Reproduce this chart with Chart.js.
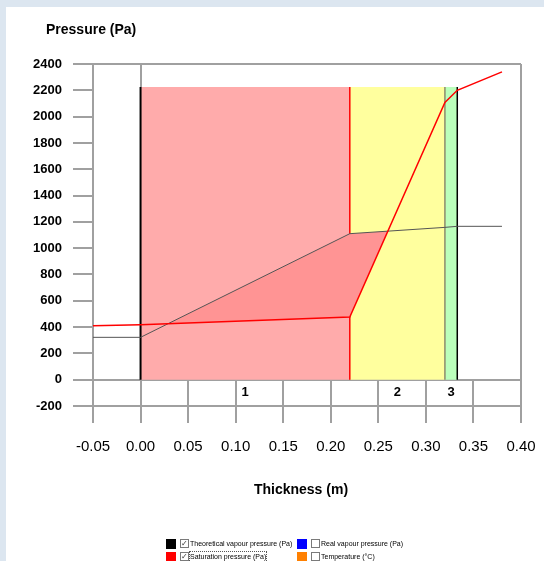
<!DOCTYPE html>
<html>
<head>
<meta charset="utf-8">
<script src="https://cdn.jsdelivr.net/npm/chart.js@4.4.1/dist/chart.umd.min.js"></script>
<style>
  html, body { margin: 0; padding: 0; }
  body { width: 544px; height: 561px; background: #dce6f0; position: relative; overflow: hidden; font-family: "Liberation Sans", Arial, sans-serif; }
  #panel { position: absolute; left: 6px; top: 7px; right: 0; bottom: 0; background: #ffffff; }
  #chart { position: absolute; left: 0; top: 0; }
  .legend-item { position: absolute; height: 10px; font-size: 7px; line-height: 10px; color: #000; white-space: nowrap; }
  .legend-item .swatch { position: absolute; left: 0; top: 0; width: 10px; height: 10px; }
  .legend-item .box { position: absolute; left: 14px; top: 0; width: 7px; height: 7px; border: 1px solid #7a7a7a; background: #fff; font-size: 8px; line-height: 7px; text-align: center; color: #333; }
  .legend-item .text { position: absolute; left: 24px; top: 0; }
  .legend-item .focus { outline: 1px dotted #555; }
</style>
</head>
<body>
<div id="panel"></div>
<canvas id="chart" width="544" height="561"></canvas>
<div id="legend"></div>
<script>
// position through the wall (m)
const thickness = [-0.05, 0, 0.22, 0.32, 0.333, 0.38];
const saturationPressure = [410, 418, 477, 2108, 2200, 2340];
const vapourPressure = [322, 322, 1110, 1158, 1166, 1166];

// material layers
const layerNames = ["1", "2", "3"];
const layerStart = [0, 0.22, 0.32];
const layerEnd = [0.22, 0.32, 0.333];
const layerTop = 2225;
const layerColors = ["#ffabab", "#ffff9e", "#bbffbb"];
const layerEdgeColors = ["#ff0000", "#8c8c6a", "#000000"];

const xTickLabels = ["-0.05", "0.00", "0.05", "0.10", "0.15", "0.20", "0.25", "0.30", "0.35", "0.40"];
const yTickLabels = ["-200", "0", "200", "400", "600", "800", "1000", "1200", "1400", "1600", "1800", "2000", "2200", "2400"];

const legendItems = [
  { label: "Theoretical vapour pressure (Pa)", color: "#000000", checked: true },
  { label: "Real vapour pressure (Pa)", color: "#0000ff", checked: false },
  { label: "Saturation pressure (Pa)", color: "#ff0000", checked: true, focus: true },
  { label: "Temperature (\u00b0C)", color: "#ff8000", checked: false },
];

const toPoints = (xs, ys) => xs.map((x, i) => ({ x: x, y: ys[i] }));

const datasets = [
  {
    label: "Saturation pressure (Pa)",
    data: toPoints(thickness, saturationPressure),
    borderColor: "#ff0000",
    borderWidth: 1.5,
    pointRadius: 0,
    fill: false,
  },
  {
    label: "Theoretical vapour pressure (Pa)",
    data: toPoints(thickness, vapourPressure),
    borderColor: "#555555",
    borderWidth: 1,
    pointRadius: 0,
    // condensation zone where vapour pressure goes above saturation
    fill: { target: 0, above: "#ff9494", below: "rgba(0,0,0,0)" },
  },
];

// left edge of the first layer
datasets.push({
  data: [{ x: layerStart[0], y: 0 }, { x: layerStart[0], y: layerTop }],
  borderColor: "#000000",
  borderWidth: 2,
  pointRadius: 0,
  fill: false,
});

layerNames.forEach((name, i) => {
  datasets.push({
    data: [{ x: layerEnd[i], y: 0 }, { x: layerEnd[i], y: layerTop }],
    borderColor: layerEdgeColors[i],
    borderWidth: 1.5,
    pointRadius: 0,
    fill: false,
  });
});

layerNames.forEach((name, i) => {
  datasets.push({
    label: "Layer " + name,
    data: [{ x: layerStart[i], y: layerTop }, { x: layerEnd[i], y: layerTop }],
    borderColor: "transparent",
    backgroundColor: layerColors[i],
    borderWidth: 0,
    pointRadius: 0,
    fill: "origin",
  });
});

// frame, tick marks and the short grid lines below zero
const framePlugin = {
  id: "frame",
  beforeDatasetsDraw(chart) {
    const { ctx, chartArea: a, scales: { x, y } } = chart;
    const y0 = y.getPixelForValue(0);
    const tickLeft = a.left - 20;
    const tickBottom = a.bottom + 17;
    ctx.save();
    ctx.strokeStyle = "#a0a0a0";
    ctx.lineWidth = 2;
    ctx.beginPath();
    y.ticks.forEach((t) => {
      const py = Math.round(y.getPixelForValue(t.value));
      const full = t.value <= 0 || t.value === y.max;
      ctx.moveTo(tickLeft, py);
      ctx.lineTo(full ? a.right : a.left, py);
    });
    x.ticks.forEach((t) => {
      const px = Math.round(x.getPixelForValue(t.value));
      const full = t.value === x.min || t.value === x.max || Math.abs(t.value) < 1e-9;
      ctx.moveTo(px, full ? a.top : y0);
      ctx.lineTo(px, tickBottom);
    });
    ctx.stroke();
    ctx.restore();
  },
  afterDraw(chart) {
    const { ctx, scales: { x, y } } = chart;
    ctx.save();
    ctx.fillStyle = "#000";
    ctx.textBaseline = "middle";
    ctx.textAlign = "center";
    ctx.font = "bold 13px 'Liberation Sans', Arial, sans-serif";
    const labelY = y.getPixelForValue(-100);
    layerNames.forEach((name, i) => {
      ctx.fillText(name, x.getPixelForValue((layerStart[i] + layerEnd[i]) / 2), labelY);
    });
    ctx.font = "bold 14px 'Liberation Sans', Arial, sans-serif";
    ctx.textAlign = "left";
    ctx.fillText("Pressure (Pa)", 46, 30);
    ctx.textAlign = "center";
    ctx.fillText("Thickness (m)", 301, 490);
    ctx.restore();
  },
};

new Chart(document.getElementById("chart"), {
  type: "line",
  data: { datasets: datasets },
  options: {
    responsive: false,
    animation: false,
    devicePixelRatio: 1,
    layout: { padding: { left: 0, right: 23, top: 64, bottom: 0 } },
    plugins: {
      legend: { display: false },
      tooltip: { enabled: false },
    },
    elements: { line: { tension: 0 } },
    scales: {
      x: {
        type: "linear",
        min: -0.05,
        max: 0.4,
        grid: { display: false, drawTicks: false, tickLength: 0 },
        border: { display: false },
        ticks: {
          stepSize: 0.05,
          padding: 32,
          color: "#000",
          maxRotation: 0,
          autoSkip: false,
          font: { family: "'Liberation Sans', Arial, sans-serif", size: 15 },
          callback: (v, i) => xTickLabels[i],
        },
        afterFit: (s) => {
          s.height = 155;
          s.paddingLeft = 0;
          s.paddingRight = 0;
        },
      },
      y: {
        type: "linear",
        min: -200,
        max: 2400,
        grid: { display: false, drawTicks: false, tickLength: 0 },
        border: { display: false },
        ticks: {
          stepSize: 200,
          padding: 31,
          color: "#000",
          autoSkip: false,
          font: { family: "'Liberation Sans', Arial, sans-serif", size: 13, weight: "bold" },
          callback: (v, i) => yTickLabels[i],
        },
        afterFit: (s) => {
          s.width = 93;
          s.paddingTop = 0;
          s.paddingBottom = 0;
        },
      },
    },
  },
  plugins: [framePlugin],
});

// legend below the chart, two columns
const legendEl = document.getElementById("legend");
const colX = [166, 297];
const rowY = [539, 552];
legendItems.forEach((item, i) => {
  const el = document.createElement("div");
  el.className = "legend-item";
  el.style.left = colX[i % 2] + "px";
  el.style.top = rowY[Math.floor(i / 2)] + "px";
  el.innerHTML =
    '<span class="swatch" style="background:' + item.color + '"></span>' +
    '<span class="box">' + (item.checked ? "\u2713" : "") + "</span>" +
    '<span class="text' + (item.focus ? " focus" : "") + '">' + item.label + "</span>";
  legendEl.appendChild(el);
});
</script>
</body>
</html>
